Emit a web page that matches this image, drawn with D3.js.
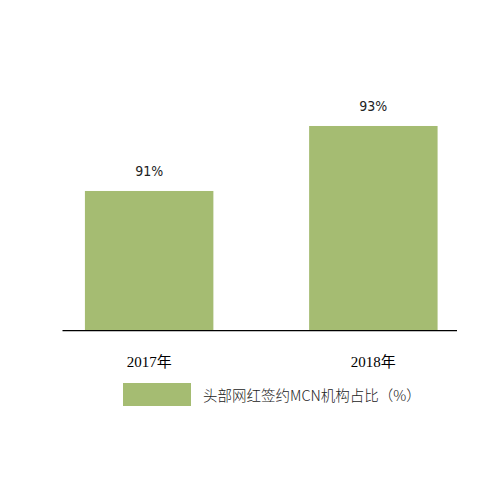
<!DOCTYPE html>
<html>
<head>
<meta charset="utf-8">
<script src="https://cdn.jsdelivr.net/npm/d3@7"></script>
<style>
  html, body { margin: 0; padding: 0; background: #fff; }
  svg { display: block; }
</style>
</head>
<body>
<svg id="chart" width="500" height="500"></svg>
<script>
// Share of top influencers signed with MCN agencies, by year
const categories = ["2017年", "2018年"];
const shareValues = [91, 93];
const valueLabels = ["91%", "93%"];
const seriesName = "头部网红签约MCN机构占比（%）";

const barColor = "#a5bc72";
const svg = d3.select("#chart");

const x = d3.scaleBand()
  .domain(categories)
  .range([62.5, 460])
  .paddingInner(0.427)
  .paddingOuter(0.1);

// Value axis starts above zero so the small difference stays visible
const y = d3.scaleLinear()
  .domain([86.7, 95])
  .range([330.7, 61]);

const rows = categories.map((c, i) => ({ cat: c, v: shareValues[i], label: valueLabels[i] }));

svg.selectAll("rect.bar")
  .data(rows)
  .join("rect")
  .attr("class", "bar")
  .attr("x", d => x(d.cat))
  .attr("y", d => y(d.v))
  .attr("width", x.bandwidth())
  .attr("height", d => y.range()[0] - y(d.v))
  .attr("fill", barColor);

// Category axis along the bottom
const xAxis = svg.append("g")
  .attr("transform", `translate(0,${y.range()[0]})`)
  .call(d3.axisBottom(x).tickSize(0).tickPadding(26));
xAxis.select(".domain").remove();
xAxis.append("line")
  .attr("x1", 62.5).attr("x2", 457)
  .attr("stroke", "#000").attr("stroke-width", 1.3);
xAxis.selectAll("text")
  .attr("font-family", "'Liberation Serif', 'Noto Sans CJK SC', serif")
  .attr("font-size", 15)
  .attr("fill", "#000");

// Value labels above each bar
svg.selectAll("text.val")
  .data(rows)
  .join("text")
  .attr("class", "val")
  .attr("x", d => x(d.cat) + x.bandwidth() / 2)
  .attr("y", d => y(d.v) - 15)
  .attr("text-anchor", "middle")
  .attr("font-family", "'Liberation Sans Narrow', 'DejaVu Sans Condensed', sans-serif")
  .attr("font-size", 14)
  .attr("fill", "#222")
  .text(d => d.label);

// Legend
const legend = svg.append("g").attr("transform", "translate(123,383)");
legend.append("rect")
  .attr("width", 68)
  .attr("height", 23)
  .attr("fill", barColor);
legend.append("text")
  .attr("x", 80)
  .attr("y", 18)
  .attr("font-family", "'Noto Sans CJK SC', sans-serif")
  .attr("font-weight", 300)
  .attr("font-size", 14.5)
  .attr("fill", "#222")
  .text(seriesName);
</script>
</body>
</html>
